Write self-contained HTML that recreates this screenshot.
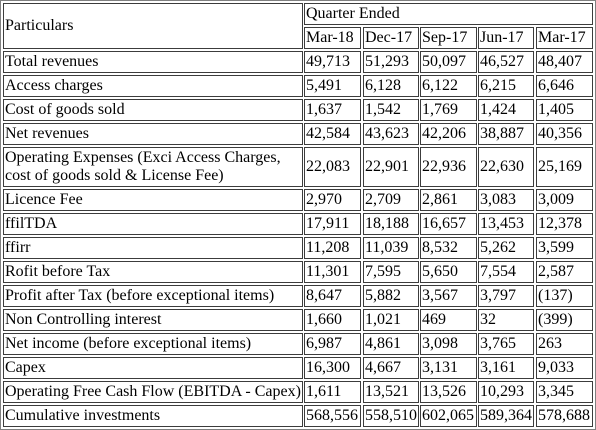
<!DOCTYPE html>
<html><head><meta charset="utf-8"><style>
html,body{margin:0;padding:0;background:#fff;}
#t{position:relative;width:596px;height:430px;overflow:hidden;font-family:"Liberation Serif",serif;font-size:16px;color:#000;}
#outer{position:absolute;left:0;top:0;width:594px;height:428px;border:1px solid #808080;}
.c{position:absolute;box-sizing:border-box;border:1px solid #3c3c3c;padding:0 1px;display:flex;align-items:center;white-space:nowrap;line-height:18px;overflow:hidden;}
</style></head><body>
<div id="t">
<div id="outer"></div>
</div>
<script>
const periods=["Mar-18","Dec-17","Sep-17","Jun-17","Mar-17"];
const labels=["Total revenues","Access charges","Cost of goods sold","Net revenues","Operating Expenses (Exci Access Charges,<br>cost of goods sold &amp; License Fee)","Licence Fee","ffilTDA","ffirr","Rofit before Tax","Profit after Tax (before exceptional items)","Non Controlling interest","Net income (before exceptional items)","Capex","Operating Free Cash Flow (EBITDA - Capex)","Cumulative investments"];
const values=[
["49,713","51,293","50,097","46,527","48,407"],
["5,491","6,128","6,122","6,215","6,646"],
["1,637","1,542","1,769","1,424","1,405"],
["42,584","43,623","42,206","38,887","40,356"],
["22,083","22,901","22,936","22,630","25,169"],
["2,970","2,709","2,861","3,083","3,009"],
["17,911","18,188","16,657","13,453","12,378"],
["11,208","11,039","8,532","5,262","3,599"],
["11,301","7,595","5,650","7,554","2,587"],
["8,647","5,882","3,567","3,797","(137)"],
["1,660","1,021","469","32","(399)"],
["6,987","4,861","3,098","3,765","263"],
["16,300","4,667","3,131","3,161","9,033"],
["1,611","13,521","13,526","10,293","3,345"],
["568,556","558,510","602,065","589,364","578,688"]];
const colX=[3,304,363,420,478,536], colW=[300,57,56,57,56,57];
const t=document.getElementById('t');
function cell(x,y,w,h,html,name){
 const d=document.createElement('div');
 d.className='c';
 d.style.left=x+'px';d.style.top=y+'px';d.style.width=w+'px';d.style.height=h+'px';
 d.innerHTML=html;
 
 
 t.appendChild(d);
}
cell(3,3,300,46,"Particulars","header-particulars");
cell(304,3,289,22,"Quarter Ended","header-quarter-ended");
periods.forEach((p,i)=>cell(colX[i+1],27,colW[i+1],22,p,"header-"+p.toLowerCase()));
let y=51;
labels.forEach((l,r)=>{
 const h=(r===4)?40:22;
 cell(colX[0],y,colW[0],h,l,"row-label");
 values[r].forEach((v,i)=>cell(colX[i+1],y,colW[i+1],h,v,"value-cell"));
 y+=h+2;
});
</script>
</body></html>
